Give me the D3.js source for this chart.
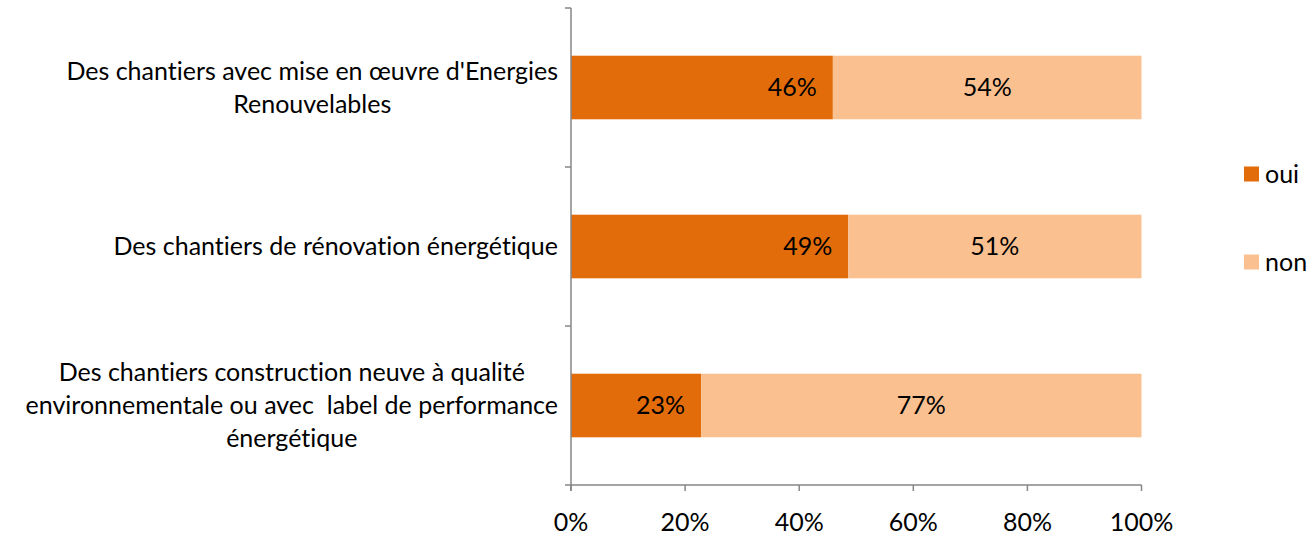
<!DOCTYPE html>
<html>
<head>
<meta charset="utf-8">
<script src="https://cdn.jsdelivr.net/npm/d3@7"></script>
<style>
  html, body { margin: 0; padding: 0; background: #fff; }
  svg text { font-family: Lato, "Open Sans", sans-serif; fill: #000; font-variant-ligatures: none; white-space: pre; }
</style>
</head>
<body>
<svg id="chart" width="1314" height="537"></svg>
<script>
// ---- data ----
const categories = [
  ["Des chantiers avec mise en œuvre d'Energies", "Renouvelables"],
  ["Des chantiers de rénovation énergétique"],
  ["Des chantiers construction neuve à qualité", "environnementale ou avec  label de performance", "énergétique"]
];
const seriesNames = ["oui", "non"];
const ouiValues = [45.9, 48.6, 22.8];
const nonValues = [54.1, 51.4, 77.2];
const ouiLabels = ["46%", "49%", "23%"];
const nonLabels = ["54%", "51%", "77%"];
const xTicks = [0, 20, 40, 60, 80, 100];
const colors = ["#E36C0A", "#FAC090"];

// ---- layout ----
const svg = d3.select("#chart");
const x0 = 571, x1 = 1141.5, yTop = 8, yBot = 485;
const fs = 25;

const x = d3.scaleLinear().domain([0, 100]).range([x0, x1]);
const idx = categories.map((d, i) => i);
const y = d3.scaleBand().domain(idx).range([yTop, yBot]).paddingInner(0.6).paddingOuter(0.3);
const step = y.step();

// stacked data
const rows = idx.map(i => ({ i, oui: ouiValues[i], non: nonValues[i] }));
const stack = d3.stack().keys(seriesNames)(rows);

const g = svg.append("g");
stack.forEach((layer, k) => {
  g.selectAll(null).data(layer).enter().append("rect")
    .attr("x", d => x(d[0]))
    .attr("y", d => y(d.data.i))
    .attr("width", d => x(d[1]) - x(d[0]))
    .attr("height", y.bandwidth())
    .attr("fill", colors[k]);
});

// data labels
stack[0].forEach((d, i) => {
  g.append("text")
    .attr("x", x(d[1]) - 16)
    .attr("y", y(i) + y.bandwidth() / 2)
    .attr("dy", "0.35em")
    .attr("text-anchor", "end")
    .style("font-size", fs + "px")
    .text(ouiLabels[i]);
});
stack[1].forEach((d, i) => {
  g.append("text")
    .attr("x", (x(d[0]) + x(d[1])) / 2)
    .attr("y", y(i) + y.bandwidth() / 2)
    .attr("dy", "0.35em")
    .attr("text-anchor", "middle")
    .style("font-size", fs + "px")
    .text(nonLabels[i]);
});

// axes
const axisColor = "#868686";
const ax = svg.append("g").attr("stroke", axisColor).attr("stroke-width", 1.5).attr("fill", "none");
ax.append("line").attr("x1", x0).attr("x2", x0).attr("y1", yTop).attr("y2", yBot + 6);
ax.append("line").attr("x1", x0 - 6).attr("x2", x1).attr("y1", yBot).attr("y2", yBot);
// y boundary ticks
const yBounds = [yTop, yTop + step, yTop + 2 * step];
yBounds.forEach(v => ax.append("line").attr("x1", x0 - 6).attr("x2", x0).attr("y1", v).attr("y2", v));
// x ticks
xTicks.forEach(t => {
  ax.append("line").attr("x1", x(t)).attr("x2", x(t)).attr("y1", yBot).attr("y2", yBot + 6);
  svg.append("text")
    .attr("x", x(t)).attr("y", 522).attr("dy", "0.35em")
    .attr("text-anchor", "middle")
    .style("font-size", fs + "px")
    .text(t + "%");
});

// category labels (block right-aligned, lines centered)
const lineH = 33;
categories.forEach((lines, i) => {
  const t = svg.append("text").style("font-size", fs + "px").attr("text-anchor", "middle");
  const cy = y(i) + y.bandwidth() / 2;
  const n = lines.length;
  lines.forEach((ln, j) => {
    t.append("tspan").attr("x", 0).attr("y", cy + (j - (n - 1) / 2) * lineH).attr("dy", "0.35em").text(ln);
  });
  let maxW = 0;
  t.selectAll("tspan").each(function () { maxW = Math.max(maxW, this.getComputedTextLength()); });
  const cx = Math.max(558 - maxW / 2, maxW / 2 + 1);
  t.selectAll("tspan").attr("x", cx);
});

// legend
const legY = [174, 262];
seriesNames.forEach((s, k) => {
  svg.append("rect").attr("x", 1244).attr("y", legY[k] - 7.5).attr("width", 15).attr("height", 15).attr("fill", colors[k]);
  svg.append("text").attr("x", 1265).attr("y", legY[k]).attr("dy", "0.35em")
    .style("font-size", fs + "px").text(s);
});
</script>
</body>
</html>
